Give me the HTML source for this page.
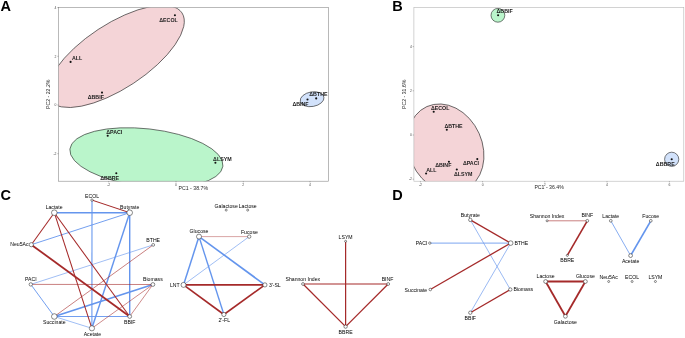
<!DOCTYPE html>
<html><head><meta charset="utf-8"><title>Figure</title>
<style>html,body{margin:0;padding:0;background:#fff;}svg{display:block;will-change:transform;}</style></head>
<body>
<svg width="685" height="338" viewBox="0 0 685 338" font-family="Liberation Sans, sans-serif">
<rect width="685" height="338" fill="#fff"/>
<defs><clipPath id="ca"><rect x="58.5" y="7.5" width="270.1" height="173.7"/></clipPath><clipPath id="cb"><rect x="413.9" y="7.5" width="269.9" height="173.7"/></clipPath></defs>
<g clip-path="url(#ca)">
<ellipse cx="115.8" cy="56.4" rx="79.2" ry="32.2" transform="rotate(-33.3 115.8 56.4)" fill="#F4D4D7" stroke="#222" stroke-width="0.6"/>
<ellipse cx="146.4" cy="157.6" rx="77" ry="28.8" transform="rotate(6.4 146.4 157.6)" fill="#BAF5CB" stroke="#222" stroke-width="0.6"/>
<ellipse cx="312.1" cy="99.2" rx="12.0" ry="7.3" transform="rotate(-10 312.1 99.2)" fill="#D2E2FB" stroke="#222" stroke-width="0.6"/>
</g>
<rect x="58.5" y="7.5" width="270.1" height="173.7" fill="none" stroke="#8a8a8a" stroke-width="0.6"/>
<circle cx="70.6" cy="61.9" r="1.05" fill="#111"/>
<text x="71.9" y="59.8" font-size="5.3" text-anchor="start" font-weight="bold" fill="#1a1a1a" >ALL</text>
<circle cx="174.9" cy="15.3" r="1.05" fill="#111"/>
<text x="177.8" y="21.6" font-size="5.3" text-anchor="end" font-weight="bold" fill="#1a1a1a" >ΔECOL</text>
<circle cx="102.0" cy="92.6" r="1.05" fill="#111"/>
<text x="103.9" y="98.8" font-size="5.3" text-anchor="end" font-weight="bold" fill="#1a1a1a" >ΔBBIF</text>
<circle cx="107.7" cy="135.8" r="1.05" fill="#111"/>
<text x="106.2" y="133.8" font-size="5.3" text-anchor="start" font-weight="bold" fill="#1a1a1a" >ΔPACI</text>
<circle cx="116.3" cy="173.3" r="1.05" fill="#111"/>
<text x="119.1" y="179.7" font-size="5.3" text-anchor="end" font-weight="bold" fill="#1a1a1a" >ΔBBRE</text>
<circle cx="215.4" cy="162.7" r="1.05" fill="#111"/>
<text x="213.1" y="160.8" font-size="5.3" text-anchor="start" font-weight="bold" fill="#1a1a1a" >ΔLSYM</text>
<circle cx="307.5" cy="99.5" r="1.05" fill="#111"/>
<text x="308.6" y="105.5" font-size="5.3" text-anchor="end" font-weight="bold" fill="#1a1a1a" >ΔBINF</text>
<circle cx="316.2" cy="98.4" r="1.05" fill="#111"/>
<text x="309.3" y="96" font-size="5.3" text-anchor="start" font-weight="bold" fill="#1a1a1a" >ΔBTHE</text>
<line x1="57.3" y1="7.6" x2="58.5" y2="7.6" stroke="#555" stroke-width="0.4"/>
<text x="56.5" y="8.799999999999999" font-size="3.4" text-anchor="end" font-weight="normal" fill="#4d4d4d" >4</text>
<line x1="57.3" y1="56.3" x2="58.5" y2="56.3" stroke="#555" stroke-width="0.4"/>
<text x="56.5" y="57.5" font-size="3.4" text-anchor="end" font-weight="normal" fill="#4d4d4d" >2</text>
<line x1="57.3" y1="105" x2="58.5" y2="105" stroke="#555" stroke-width="0.4"/>
<text x="56.5" y="106.2" font-size="3.4" text-anchor="end" font-weight="normal" fill="#4d4d4d" >0</text>
<line x1="57.3" y1="153.7" x2="58.5" y2="153.7" stroke="#555" stroke-width="0.4"/>
<text x="56.5" y="154.89999999999998" font-size="3.4" text-anchor="end" font-weight="normal" fill="#4d4d4d" >-2</text>
<line x1="108.7" y1="181.2" x2="108.7" y2="182.39999999999998" stroke="#555" stroke-width="0.4"/>
<text x="108.7" y="185.7" font-size="3.4" text-anchor="middle" font-weight="normal" fill="#4d4d4d" >-2</text>
<line x1="176" y1="181.2" x2="176" y2="182.39999999999998" stroke="#555" stroke-width="0.4"/>
<text x="176" y="185.7" font-size="3.4" text-anchor="middle" font-weight="normal" fill="#4d4d4d" >0</text>
<line x1="243.3" y1="181.2" x2="243.3" y2="182.39999999999998" stroke="#555" stroke-width="0.4"/>
<text x="243.3" y="185.7" font-size="3.4" text-anchor="middle" font-weight="normal" fill="#4d4d4d" >2</text>
<line x1="310.0" y1="181.2" x2="310.0" y2="182.39999999999998" stroke="#555" stroke-width="0.4"/>
<text x="310.0" y="185.7" font-size="3.4" text-anchor="middle" font-weight="normal" fill="#4d4d4d" >4</text>
<text x="193.3" y="189.6" font-size="5.2" text-anchor="middle" font-weight="normal" fill="#1f1f1f" >PC1 - 38.7%</text>
<text x="0" y="0" font-size="5.2" text-anchor="middle" font-weight="normal" fill="#1f1f1f" transform="translate(50.1 94.3) rotate(-90)">PC2 - 22.2%</text>
<g clip-path="url(#cb)">
<ellipse cx="445.58" cy="148.37" rx="45.8" ry="36.71" transform="rotate(65.83 445.58 148.37)" fill="#F4D4D7" stroke="#222" stroke-width="0.6"/>
</g>
<circle cx="497.9" cy="15.3" r="6.9" fill="#BAF5CB" stroke="#222" stroke-width="0.6"/>
<circle cx="671.7" cy="159.3" r="7.1" fill="#D2E2FB" stroke="#222" stroke-width="0.6"/>
<rect x="413.9" y="7.5" width="269.9" height="173.7" fill="none" stroke="#b5b5b5" stroke-width="0.6"/>
<circle cx="433.7" cy="111.8" r="1.05" fill="#111"/>
<text x="430.9" y="109.6" font-size="5.3" text-anchor="start" font-weight="bold" fill="#1a1a1a" >ΔECOL</text>
<circle cx="446.8" cy="129.8" r="1.05" fill="#111"/>
<text x="444.4" y="127.6" font-size="5.3" text-anchor="start" font-weight="bold" fill="#1a1a1a" >ΔBTHE</text>
<circle cx="448.9" cy="161.7" r="1.05" fill="#111"/>
<text x="451.4" y="166.7" font-size="5.3" text-anchor="end" font-weight="bold" fill="#1a1a1a" >ΔBINF</text>
<circle cx="477.3" cy="159.1" r="1.05" fill="#111"/>
<text x="479" y="165.3" font-size="5.3" text-anchor="end" font-weight="bold" fill="#1a1a1a" >ΔPACI</text>
<circle cx="426.1" cy="173.5" r="1.05" fill="#111"/>
<text x="426.2" y="171.9" font-size="5.3" text-anchor="start" font-weight="bold" fill="#1a1a1a" >ALL</text>
<circle cx="456.8" cy="169.5" r="1.05" fill="#111"/>
<text x="453.9" y="175.7" font-size="5.3" text-anchor="start" font-weight="bold" fill="#1a1a1a" >ΔLSYM</text>
<circle cx="498.1" cy="15.3" r="1.05" fill="#111"/>
<text x="496.5" y="12.7" font-size="5.3" text-anchor="start" font-weight="bold" fill="#1a1a1a" >ΔBBIF</text>
<circle cx="671.7" cy="159.3" r="1.05" fill="#111"/>
<text x="674.7" y="165.6" font-size="5.3" text-anchor="end" font-weight="bold" fill="#1a1a1a" >ΔBBRE</text>
<line x1="412.7" y1="46.6" x2="413.9" y2="46.6" stroke="#555" stroke-width="0.4"/>
<text x="411.9" y="47.800000000000004" font-size="3.4" text-anchor="end" font-weight="normal" fill="#4d4d4d" >4</text>
<line x1="412.7" y1="90.8" x2="413.9" y2="90.8" stroke="#555" stroke-width="0.4"/>
<text x="411.9" y="92.0" font-size="3.4" text-anchor="end" font-weight="normal" fill="#4d4d4d" >2</text>
<line x1="412.7" y1="135.0" x2="413.9" y2="135.0" stroke="#555" stroke-width="0.4"/>
<text x="411.9" y="136.2" font-size="3.4" text-anchor="end" font-weight="normal" fill="#4d4d4d" >0</text>
<line x1="412.7" y1="179.2" x2="413.9" y2="179.2" stroke="#555" stroke-width="0.4"/>
<text x="411.9" y="180.39999999999998" font-size="3.4" text-anchor="end" font-weight="normal" fill="#4d4d4d" >-2</text>
<line x1="420.4" y1="181.2" x2="420.4" y2="182.39999999999998" stroke="#555" stroke-width="0.4"/>
<text x="420.4" y="185.7" font-size="3.4" text-anchor="middle" font-weight="normal" fill="#4d4d4d" >-2</text>
<line x1="482.6" y1="181.2" x2="482.6" y2="182.39999999999998" stroke="#555" stroke-width="0.4"/>
<text x="482.6" y="185.7" font-size="3.4" text-anchor="middle" font-weight="normal" fill="#4d4d4d" >0</text>
<line x1="544.8" y1="181.2" x2="544.8" y2="182.39999999999998" stroke="#555" stroke-width="0.4"/>
<text x="544.8" y="185.7" font-size="3.4" text-anchor="middle" font-weight="normal" fill="#4d4d4d" >2</text>
<line x1="607.0" y1="181.2" x2="607.0" y2="182.39999999999998" stroke="#555" stroke-width="0.4"/>
<text x="607.0" y="185.7" font-size="3.4" text-anchor="middle" font-weight="normal" fill="#4d4d4d" >4</text>
<line x1="669.4" y1="181.2" x2="669.4" y2="182.39999999999998" stroke="#555" stroke-width="0.4"/>
<text x="669.4" y="185.7" font-size="3.4" text-anchor="middle" font-weight="normal" fill="#4d4d4d" >6</text>
<text x="549.1" y="189.4" font-size="5.2" text-anchor="middle" font-weight="normal" fill="#1f1f1f" >PC1 - 36.4%</text>
<text x="0" y="0" font-size="5.2" text-anchor="middle" font-weight="normal" fill="#1f1f1f" transform="translate(405.8 94.3) rotate(-90)">PC2 - 31.6%</text>
<text x="0.6" y="11.0" font-size="14.5" text-anchor="start" font-weight="bold" fill="#000" >A</text>
<text x="392.3" y="11.0" font-size="14.5" text-anchor="start" font-weight="bold" fill="#000" >B</text>
<text x="0.4" y="200.1" font-size="14.5" text-anchor="start" font-weight="bold" fill="#000" >C</text>
<text x="392.3" y="200.1" font-size="14.5" text-anchor="start" font-weight="bold" fill="#000" >D</text>
<line x1="54.3" y1="212.7" x2="129.7" y2="212.7" stroke="#6495ED" stroke-width="1.43" stroke-opacity="1"/>
<line x1="92.0" y1="200.1" x2="91.9" y2="328.3" stroke="#6495ED" stroke-width="1.1" stroke-opacity="1"/>
<line x1="31.3" y1="244.7" x2="129.7" y2="212.7" stroke="#6495ED" stroke-width="0.91" stroke-opacity="1"/>
<line x1="129.7" y1="212.7" x2="129.7" y2="316.5" stroke="#6495ED" stroke-width="1.43" stroke-opacity="1"/>
<line x1="129.7" y1="212.7" x2="91.9" y2="328.3" stroke="#6495ED" stroke-width="1.43" stroke-opacity="1"/>
<line x1="153.2" y1="244.9" x2="30.8" y2="284.4" stroke="#6495ED" stroke-width="0.62" stroke-opacity="1"/>
<line x1="30.8" y1="284.4" x2="54.3" y2="316.5" stroke="#6495ED" stroke-width="0.91" stroke-opacity="1"/>
<line x1="54.3" y1="316.5" x2="152.9" y2="284.5" stroke="#6495ED" stroke-width="1.62" stroke-opacity="1"/>
<line x1="54.3" y1="316.5" x2="129.7" y2="316.5" stroke="#6495ED" stroke-width="0.91" stroke-opacity="1"/>
<line x1="54.3" y1="316.5" x2="91.9" y2="328.3" stroke="#6495ED" stroke-width="0.62" stroke-opacity="1"/>
<line x1="92.0" y1="200.1" x2="129.7" y2="212.7" stroke="#A52A2A" stroke-width="1.0" stroke-opacity="1"/>
<line x1="54.3" y1="212.7" x2="31.3" y2="244.7" stroke="#A52A2A" stroke-width="1.05" stroke-opacity="1"/>
<line x1="54.3" y1="212.7" x2="91.9" y2="328.3" stroke="#A52A2A" stroke-width="1.05" stroke-opacity="1"/>
<line x1="54.3" y1="212.7" x2="129.7" y2="316.5" stroke="#A52A2A" stroke-width="1.05" stroke-opacity="1"/>
<line x1="31.3" y1="244.7" x2="129.7" y2="316.5" stroke="#A52A2A" stroke-width="1.8" stroke-opacity="1"/>
<line x1="153.2" y1="244.9" x2="54.3" y2="316.5" stroke="#A52A2A" stroke-width="0.6" stroke-opacity="1"/>
<line x1="30.8" y1="284.4" x2="152.9" y2="284.5" stroke="#A52A2A" stroke-width="0.6" stroke-opacity="1"/>
<line x1="152.9" y1="284.5" x2="129.7" y2="316.5" stroke="#A52A2A" stroke-width="0.55" stroke-opacity="1"/>
<line x1="152.9" y1="284.5" x2="91.9" y2="328.3" stroke="#A52A2A" stroke-width="0.55" stroke-opacity="1"/>
<circle cx="54.3" cy="212.7" r="2.8" fill="#fff" stroke="#262626" stroke-width="0.55"/>
<circle cx="129.7" cy="212.7" r="2.8" fill="#fff" stroke="#262626" stroke-width="0.55"/>
<circle cx="92.0" cy="200.1" r="1.2" fill="#fff" stroke="#262626" stroke-width="0.55"/>
<circle cx="31.3" cy="244.7" r="2.1" fill="#fff" stroke="#262626" stroke-width="0.55"/>
<circle cx="153.2" cy="244.9" r="1.4" fill="#fff" stroke="#262626" stroke-width="0.55"/>
<circle cx="30.8" cy="284.4" r="1.7" fill="#fff" stroke="#262626" stroke-width="0.55"/>
<circle cx="152.9" cy="284.5" r="1.9" fill="#fff" stroke="#262626" stroke-width="0.55"/>
<circle cx="54.3" cy="316.5" r="2.8" fill="#fff" stroke="#262626" stroke-width="0.55"/>
<circle cx="129.7" cy="316.5" r="1.9" fill="#fff" stroke="#262626" stroke-width="0.55"/>
<circle cx="91.9" cy="328.3" r="2.6" fill="#fff" stroke="#262626" stroke-width="0.55"/>
<text x="54.1" y="208.8" font-size="5.15" text-anchor="middle" font-weight="normal" fill="#000" >Lactate</text>
<text x="129.7" y="208.8" font-size="5.15" text-anchor="middle" font-weight="normal" fill="#000" >Butyrate</text>
<text x="92" y="198" font-size="5.15" text-anchor="middle" font-weight="normal" fill="#000" >ECOL</text>
<text x="28.6" y="246.3" font-size="5.15" text-anchor="end" font-weight="normal" fill="#000" >Neu5Ac</text>
<text x="153.2" y="242.3" font-size="5.15" text-anchor="middle" font-weight="normal" fill="#000" >BTHE</text>
<text x="30.8" y="281.3" font-size="5.15" text-anchor="middle" font-weight="normal" fill="#000" >PACI</text>
<text x="152.9" y="281.3" font-size="5.15" text-anchor="middle" font-weight="normal" fill="#000" >Biomass</text>
<text x="54.3" y="324.4" font-size="5.15" text-anchor="middle" font-weight="normal" fill="#000" >Succinate</text>
<text x="129.7" y="324.4" font-size="5.15" text-anchor="middle" font-weight="normal" fill="#000" >BBIF</text>
<text x="92.4" y="336.4" font-size="5.15" text-anchor="middle" font-weight="normal" fill="#000" >Acetate</text>
<line x1="199.0" y1="236.6" x2="183.5" y2="284.9" stroke="#6495ED" stroke-width="1.49" stroke-opacity="1"/>
<line x1="199.0" y1="236.6" x2="223.9" y2="314.5" stroke="#6495ED" stroke-width="1.37" stroke-opacity="1"/>
<line x1="199.0" y1="236.6" x2="264.9" y2="284.9" stroke="#6495ED" stroke-width="1.62" stroke-opacity="1"/>
<line x1="249.2" y1="236.6" x2="183.5" y2="284.9" stroke="#6495ED" stroke-width="0.62" stroke-opacity="1"/>
<line x1="199.0" y1="236.6" x2="249.2" y2="236.6" stroke="#A52A2A" stroke-width="0.42" stroke-opacity="1"/>
<line x1="183.5" y1="284.9" x2="264.9" y2="284.9" stroke="#A52A2A" stroke-width="1.6" stroke-opacity="1"/>
<line x1="183.5" y1="284.9" x2="223.9" y2="314.5" stroke="#A52A2A" stroke-width="1.6" stroke-opacity="1"/>
<line x1="264.9" y1="284.9" x2="223.9" y2="314.5" stroke="#A52A2A" stroke-width="1.6" stroke-opacity="1"/>
<circle cx="226.2" cy="210.1" r="1.0" fill="#fff" stroke="#262626" stroke-width="0.55"/>
<circle cx="247.7" cy="210.1" r="1.0" fill="#fff" stroke="#262626" stroke-width="0.55"/>
<circle cx="199.0" cy="236.6" r="2.5" fill="#fff" stroke="#262626" stroke-width="0.55"/>
<circle cx="249.2" cy="236.6" r="1.7" fill="#fff" stroke="#262626" stroke-width="0.55"/>
<circle cx="183.5" cy="284.9" r="2.5" fill="#fff" stroke="#262626" stroke-width="0.55"/>
<circle cx="264.9" cy="284.9" r="2.1" fill="#fff" stroke="#262626" stroke-width="0.55"/>
<circle cx="223.9" cy="314.5" r="2.1" fill="#fff" stroke="#262626" stroke-width="0.55"/>
<text x="226.2" y="207.6" font-size="5.15" text-anchor="middle" font-weight="normal" fill="#000" >Galactose</text>
<text x="247.7" y="207.6" font-size="5.15" text-anchor="middle" font-weight="normal" fill="#000" >Lactose</text>
<text x="199" y="233" font-size="5.15" text-anchor="middle" font-weight="normal" fill="#000" >Glucose</text>
<text x="249.4" y="233.6" font-size="5.15" text-anchor="middle" font-weight="normal" fill="#000" >Fucose</text>
<text x="179.7" y="286.5" font-size="5.15" text-anchor="end" font-weight="normal" fill="#000" >LNT</text>
<text x="268.9" y="286.5" font-size="5.15" text-anchor="start" font-weight="normal" fill="#000" >3'-SL</text>
<text x="224.3" y="321.8" font-size="5.15" text-anchor="middle" font-weight="normal" fill="#000" >2'-FL</text>
<line x1="345.6" y1="241.3" x2="345.6" y2="326.6" stroke="#A52A2A" stroke-width="1.25" stroke-opacity="1"/>
<line x1="303.0" y1="284.0" x2="388.2" y2="284.0" stroke="#A52A2A" stroke-width="1.2" stroke-opacity="1"/>
<line x1="303.0" y1="284.0" x2="345.6" y2="326.6" stroke="#A52A2A" stroke-width="1.25" stroke-opacity="1"/>
<line x1="388.2" y1="284.0" x2="345.6" y2="326.6" stroke="#A52A2A" stroke-width="1.25" stroke-opacity="1"/>
<circle cx="345.6" cy="241.3" r="1.0" fill="#fff" stroke="#262626" stroke-width="0.55"/>
<circle cx="303.0" cy="284.0" r="1.4" fill="#fff" stroke="#262626" stroke-width="0.55"/>
<circle cx="388.2" cy="284.0" r="1.4" fill="#fff" stroke="#262626" stroke-width="0.55"/>
<circle cx="345.6" cy="326.6" r="1.7" fill="#fff" stroke="#262626" stroke-width="0.55"/>
<text x="345.6" y="238.5" font-size="5.15" text-anchor="middle" font-weight="normal" fill="#000" >LSYM</text>
<text x="302.8" y="280.7" font-size="5.15" text-anchor="middle" font-weight="normal" fill="#000" >Shannon Index</text>
<text x="387.5" y="280.7" font-size="5.15" text-anchor="middle" font-weight="normal" fill="#000" >BINF</text>
<text x="345.6" y="334.2" font-size="5.15" text-anchor="middle" font-weight="normal" fill="#000" >BBRE</text>
<line x1="429.8" y1="243.1" x2="510.7" y2="243.1" stroke="#6495ED" stroke-width="0.85" stroke-opacity="1"/>
<line x1="470.3" y1="219.9" x2="510.3" y2="289.5" stroke="#6495ED" stroke-width="0.65" stroke-opacity="1"/>
<line x1="510.7" y1="243.1" x2="470.3" y2="312.7" stroke="#6495ED" stroke-width="0.65" stroke-opacity="1"/>
<line x1="470.3" y1="219.9" x2="510.7" y2="243.1" stroke="#A52A2A" stroke-width="1.25" stroke-opacity="1"/>
<line x1="430.3" y1="289.5" x2="510.7" y2="243.1" stroke="#A52A2A" stroke-width="1.3" stroke-opacity="1"/>
<line x1="470.3" y1="312.7" x2="510.3" y2="289.5" stroke="#A52A2A" stroke-width="1.3" stroke-opacity="1"/>
<circle cx="470.3" cy="219.9" r="1.7" fill="#fff" stroke="#262626" stroke-width="0.55"/>
<circle cx="429.8" cy="243.1" r="1.2" fill="#fff" stroke="#262626" stroke-width="0.55"/>
<circle cx="510.7" cy="243.1" r="2.3" fill="#fff" stroke="#262626" stroke-width="0.55"/>
<circle cx="430.3" cy="289.5" r="1.3" fill="#fff" stroke="#262626" stroke-width="0.55"/>
<circle cx="510.3" cy="289.5" r="1.7" fill="#fff" stroke="#262626" stroke-width="0.55"/>
<circle cx="470.3" cy="312.7" r="1.7" fill="#fff" stroke="#262626" stroke-width="0.55"/>
<text x="470.3" y="216.7" font-size="5.15" text-anchor="middle" font-weight="normal" fill="#000" >Butyrate</text>
<text x="427.3" y="244.9" font-size="5.15" text-anchor="end" font-weight="normal" fill="#000" >PACI</text>
<text x="514.4" y="244.8" font-size="5.15" text-anchor="start" font-weight="normal" fill="#000" >BTHE</text>
<text x="427.2" y="291.6" font-size="5.15" text-anchor="end" font-weight="normal" fill="#000" >Succinate</text>
<text x="513.4" y="291.2" font-size="5.15" text-anchor="start" font-weight="normal" fill="#000" >Biomass</text>
<text x="470.3" y="320.0" font-size="5.15" text-anchor="middle" font-weight="normal" fill="#000" >BBIF</text>
<line x1="547.1" y1="220.8" x2="587.3" y2="220.8" stroke="#A52A2A" stroke-width="0.6" stroke-opacity="1"/>
<line x1="587.3" y1="220.8" x2="567.3" y2="255.4" stroke="#A52A2A" stroke-width="1.6" stroke-opacity="1"/>
<circle cx="547.1" cy="220.8" r="1.0" fill="#fff" stroke="#262626" stroke-width="0.55"/>
<circle cx="587.3" cy="220.8" r="1.4" fill="#fff" stroke="#262626" stroke-width="0.55"/>
<circle cx="567.3" cy="255.4" r="1.0" fill="#fff" stroke="#262626" stroke-width="0.55"/>
<text x="547.1" y="217.6" font-size="5.15" text-anchor="middle" font-weight="normal" fill="#000" >Shannon Index</text>
<text x="587.3" y="217.4" font-size="5.15" text-anchor="middle" font-weight="normal" fill="#000" >BINF</text>
<text x="567.3" y="262.4" font-size="5.15" text-anchor="middle" font-weight="normal" fill="#000" >BBRE</text>
<line x1="610.8" y1="220.8" x2="630.6" y2="255.6" stroke="#6495ED" stroke-width="0.78" stroke-opacity="1"/>
<line x1="650.8" y1="220.8" x2="630.6" y2="255.6" stroke="#6495ED" stroke-width="1.69" stroke-opacity="1"/>
<circle cx="610.8" cy="220.8" r="1.35" fill="#fff" stroke="#262626" stroke-width="0.55"/>
<circle cx="650.8" cy="220.8" r="1.35" fill="#fff" stroke="#262626" stroke-width="0.55"/>
<circle cx="630.6" cy="255.6" r="1.9" fill="#fff" stroke="#262626" stroke-width="0.55"/>
<text x="610.8" y="217.6" font-size="5.15" text-anchor="middle" font-weight="normal" fill="#000" >Lactate</text>
<text x="650.8" y="217.6" font-size="5.15" text-anchor="middle" font-weight="normal" fill="#000" >Fucose</text>
<text x="630.6" y="263.0" font-size="5.15" text-anchor="middle" font-weight="normal" fill="#000" >Acetate</text>
<line x1="545.6" y1="281.5" x2="585.4" y2="281.5" stroke="#A52A2A" stroke-width="1.8" stroke-opacity="1"/>
<line x1="545.6" y1="281.5" x2="565.4" y2="316.3" stroke="#A52A2A" stroke-width="1.8" stroke-opacity="1"/>
<line x1="585.4" y1="281.5" x2="565.4" y2="316.3" stroke="#A52A2A" stroke-width="1.8" stroke-opacity="1"/>
<circle cx="545.6" cy="281.5" r="1.9" fill="#fff" stroke="#262626" stroke-width="0.55"/>
<circle cx="585.4" cy="281.5" r="1.9" fill="#fff" stroke="#262626" stroke-width="0.55"/>
<circle cx="565.4" cy="316.3" r="1.9" fill="#fff" stroke="#262626" stroke-width="0.55"/>
<text x="545.6" y="278.2" font-size="5.15" text-anchor="middle" font-weight="normal" fill="#000" >Lactose</text>
<text x="585.4" y="278.2" font-size="5.15" text-anchor="middle" font-weight="normal" fill="#000" >Glucose</text>
<text x="565.4" y="323.6" font-size="5.15" text-anchor="middle" font-weight="normal" fill="#000" >Galactose</text>
<circle cx="608.7" cy="281.5" r="1.0" fill="#fff" stroke="#262626" stroke-width="0.55"/>
<text x="608.7" y="278.8" font-size="5.15" text-anchor="middle" font-weight="normal" fill="#000" >Neu5Ac</text>
<circle cx="632.1" cy="281.5" r="1.0" fill="#fff" stroke="#262626" stroke-width="0.55"/>
<text x="632.1" y="278.8" font-size="5.15" text-anchor="middle" font-weight="normal" fill="#000" >ECOL</text>
<circle cx="655.4" cy="281.5" r="1.0" fill="#fff" stroke="#262626" stroke-width="0.55"/>
<text x="655.4" y="278.8" font-size="5.15" text-anchor="middle" font-weight="normal" fill="#000" >LSYM</text>
</svg>
</body></html>
